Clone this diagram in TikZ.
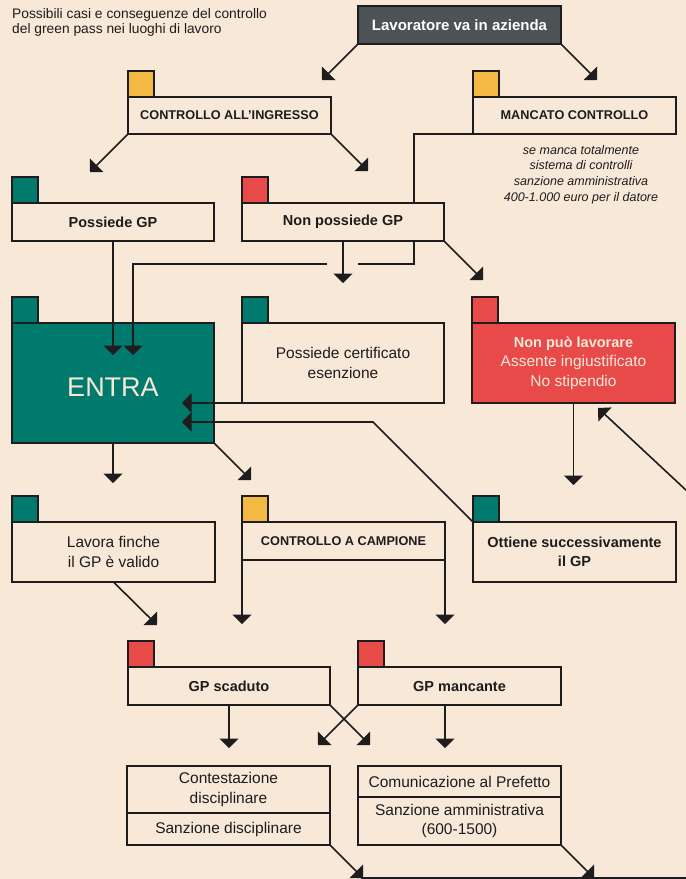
\documentclass[tikz,border=0pt]{standalone}
\usepackage{fontspec}
\setmainfont{Liberation Sans}
\usetikzlibrary{arrows.meta}
\definecolor{paper}{HTML}{F7E8D8}
\definecolor{ink}{HTML}{1E1C1C}
\definecolor{gpteal}{HTML}{007A6C}
\definecolor{gpred}{HTML}{E84A4A}
\definecolor{gpyellow}{HTML}{F4B942}
\definecolor{gpgray}{HTML}{4D5254}
\newcommand{\ftitle}{\fontsize{13.8}{15}\selectfont}
\newcommand{\fbold}{\fontsize{14.5}{18.5}\selectfont\bfseries}
\newcommand{\fcaps}{\fontsize{12.7}{15}\selectfont\bfseries}
\newcommand{\freg}{\fontsize{15.5}{19.5}\selectfont}
\newcommand{\fital}{\fontsize{12.5}{15.7}\selectfont\itshape}
\begin{document}
\begin{tikzpicture}[x=1pt,y=-1pt,
  box/.style={draw=ink, line width=2.4pt, fill=paper, anchor=north west,
    inner sep=0pt, outer sep=0pt, align=center, text=ink},
  tabsq/.style={draw=ink, line width=2.4pt, minimum width=26pt, minimum height=26pt,
    anchor=south west, inner sep=0pt, outer sep=0pt},
  conn/.style={line width=1.6pt, draw=ink},
  arr/.style={conn, -{Triangle[length=9.5pt,width=19pt]}}]
\path[use as bounding box] (0,0) rectangle (686,879);
\fill[paper] (0,0) rectangle (686,879);
\begin{scope}
\clip (0,0) rectangle (686,879);

% title
\node[anchor=base west, inner sep=0pt, font=\ftitle, text=ink] (title1) at (12,18) {Possibili casi e conseguenze del controllo};
\node[anchor=base west, inner sep=0pt, font=\ftitle, text=ink] (title2) at (12,33) {del green pass nei luoghi di lavoro};

% boxes
\node[box, fill=gpgray, text=white, font=\fontsize{15}{18}\selectfont\bfseries, minimum width=203pt, minimum height=38pt] (lav) at (358,6) {Lavoratore va in azienda};

\node[box, font=\fcaps, minimum width=203pt, minimum height=37pt] (ctrlin) at (128,97) {CONTROLLO ALL’INGRESSO};
\node[tabsq, fill=gpyellow] (ctrlintab) at (ctrlin.north west) {};

\node[box, font=\fcaps, minimum width=203pt, minimum height=37pt] (mancato) at (473,97) {MANCATO CONTROLLO};
\node[tabsq, fill=gpyellow] (mancatotab) at (mancato.north west) {};

\node[font=\fital, align=center, anchor=north, inner sep=0pt, text=ink] (note) at (581,145) {se manca totalmente\\sistema di controlli\\sanzione amministrativa\\400-1.000 euro per il datore};

\node[box, font=\fbold, minimum width=202pt, minimum height=38pt] (possgp) at (12,203) {Possiede GP};
\node[tabsq, fill=gpteal] (possgptab) at (possgp.north west) {};

\node[box, font=\fbold, minimum width=202pt, minimum height=38pt] (nonposs) at (242,203) {Non possiede GP};
\node[tabsq, fill=gpred] (nonposstab) at (nonposs.north west) {};

\node[box, fill=gpteal, minimum width=202pt, minimum height=120pt] (entra) at (12,323) {};
\node[tabsq, fill=gpteal] (entratab) at (entra.north west) {};
\node[inner sep=0pt, text=paper, font=\fontsize{27}{30}\selectfont] (entralabel) at ([yshift=-4pt]entra.center) {ENTRA};

\node[box, font=\freg, minimum width=202pt, minimum height=80pt] (cert) at (242,323) {Possiede certificato\\esenzione};
\node[tabsq, fill=gpteal] (certtab) at (cert.north west) {};

\node[box, fill=gpred, text=paper, font=\freg, minimum width=203pt, minimum height=80pt] (nonpuo) at (472,323) {{\fbold Non può lavorare}\\Assente ingiustificato\\No stipendio};
\node[tabsq, fill=gpred] (nonpuotab) at (nonpuo.north west) {};

\node[box, font=\freg, minimum width=203pt, minimum height=60pt] (lavora) at (12,522) {Lavora finche\\il GP è valido};
\node[tabsq, fill=gpteal] (lavoratab) at (lavora.north west) {};

\node[box, font=\fcaps, minimum width=203pt, minimum height=38pt] (campione) at (242,522) {CONTROLLO A CAMPIONE};
\node[tabsq, fill=gpyellow] (campionetab) at (campione.north west) {};

\node[box, font=\fbold, minimum width=203pt, minimum height=60pt] (ottiene) at (473,522) {Ottiene successivamente\\il GP};
\node[tabsq, fill=gpteal] (ottienetab) at (ottiene.north west) {};

\node[box, font=\fbold, minimum width=202pt, minimum height=38pt] (scaduto) at (128,667) {GP scaduto};
\node[tabsq, fill=gpred] (scadutotab) at (scaduto.north west) {};

\node[box, font=\fbold, minimum width=203pt, minimum height=38pt] (mancante) at (358,667) {GP mancante};
\node[tabsq, fill=gpred] (mancantetab) at (mancante.north west) {};

\node[box, font=\freg, minimum width=203pt, minimum height=47pt] (contestA) at (127,766) {Contestazione\\disciplinare};
\node[box, font=\freg, minimum width=203pt, minimum height=32pt] (contestB) at (127,813) {Sanzione disciplinare};

\node[box, font=\freg, minimum width=203pt, minimum height=31pt] (comunicA) at (358,766) {Comunicazione al Prefetto};
\node[box, font=\freg, minimum width=203pt, minimum height=48pt] (comunicB) at (358,797) {Sanzione amministrativa\\(600-1500)};

\node[box, minimum width=400pt, minimum height=60pt] (final) at (362,878) {};

% arrow end points
\coordinate (t1) at (322,80);
\coordinate (t2) at (597,80);
\coordinate (t3) at (90,172);
\coordinate (t4) at (368,171);
\coordinate (mk) at (414,134);
\coordinate (jr) at (358,264);
\coordinate (jl) at (327,264);
\coordinate (jc) at (133,264);
\coordinate (t5) at (133,355);
\coordinate (t6) at (343,283);
\coordinate (t7) at (483,280);
\coordinate (t8) at (113,355);
\coordinate (t9) at (182,403);
\coordinate (oc) at (373,422);
\coordinate (t10) at (182,422);
\coordinate (t11) at (573.5,485);
\coordinate (s12) at (702,505);
\coordinate (t12) at (598,408);
\coordinate (t13) at (113,483);
\coordinate (t14) at (251,480);
\coordinate (t15) at (157,625);
\coordinate (t16) at (242,624);
\coordinate (t17) at (445,624);
\coordinate (t18) at (229,748);
\coordinate (t19) at (370,745);
\coordinate (t20) at (318,745);
\coordinate (m21) at (445,705);
\coordinate (t21) at (445,748);
\coordinate (t22) at (363,878);
\coordinate (t23) at (594,878);

% connectors
\draw[arr] (lav.south west) -- (t1);
\draw[arr] (lav.south east) -- (t2);
\draw[arr] (ctrlin.south west) -- (t3);
\draw[arr] (ctrlin.south east) -- (t4);
\draw[conn] (mancato.south west) -- (mk) -- (mk |- nonposs.north);
\draw[conn] (mk |- nonposs.south) -- (mk |- jr) -- (jr);
\draw[arr] (jl) -- (jc) -- (t5);
\draw[arr] (nonposs.south) -- (t6);
\draw[arr] (nonposs.south east) -- (t7);
\draw[arr] (possgp.south) -- (t8);
\draw[arr] (cert.south west) -- (t9);
\draw[arr] (ottiene.north west) -- (oc) -- (t10);
\draw[arr] (nonpuo.south) -- (t11);
\draw[arr] (s12) -- (t12);
\draw[arr] (entra.south) -- (t13);
\draw[arr] (entra.south east) -- (t14);
\draw[arr] (lavora.south) -- (t15);
\draw[arr] (campione.south west) -- (t16);
\draw[arr] (campione.south east) -- (t17);
\draw[arr] (scaduto.south) -- (t18);
\draw[arr] (scaduto.south east) -- (t19);
\draw[arr] (mancante.south west) -- (t20);
\draw[arr] (m21) -- (t21);
\draw[arr] (contestB.south east) -- (t22);
\draw[arr] (comunicB.south east) -- (t23);
\end{scope}
\end{tikzpicture}
\end{document}
